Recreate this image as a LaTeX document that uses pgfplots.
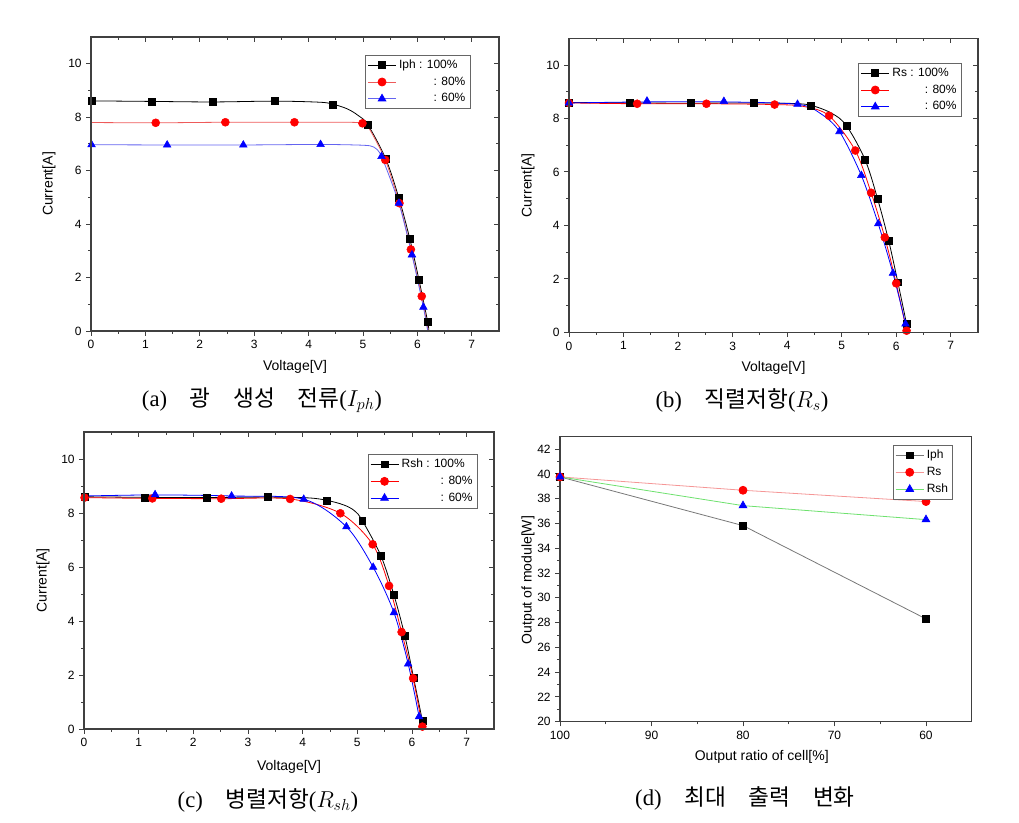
\documentclass[border=0pt]{standalone}
\usepackage{pgfplots}
\pgfplotsset{compat=1.18}
\usepackage{fontspec}
\setmainfont{Liberation Sans}
\newfontfamily\serif{Liberation Serif}
\newfontfamily\kr{Noto Sans CJK KR}
\definecolor{lred}{RGB}{238,90,90}
\definecolor{lblue}{RGB}{100,100,240}
\definecolor{gline}{RGB}{120,120,120}
\definecolor{pline}{RGB}{245,150,150}
\definecolor{grline}{RGB}{110,225,110}
\definecolor{mred}{RGB}{255,0,0}
\definecolor{mblue}{RGB}{0,0,255}
\pgfplotsset{
  common/.style={scale only axis,
    axis line style={black!75, line width=0.8pt},
    tick style={black!75, line width=0.7pt},
    major tick length=3.5pt, minor tick length=2pt,
    tick label style={font=\fontsize{9}{10}\selectfont},
    label style={font=\fontsize{10.5}{12}\selectfont},
    /pgf/number format/assume math mode=true,
    legend image code/.code={\draw (0pt,0pt) -- (21pt,0pt); \draw plot[only marks] coordinates {(10.5pt,0pt)};},
    legend style={draw=black!60, line width=0.6pt, font=\fontsize{9}{10}\selectfont, inner sep=1.5pt, row sep=0.8pt, legend cell align=left, fill=white},
  },
  iv/.style={common, xmin=0, xmax=7.5, ymin=0, ymax=11,
    xtick={0,1,...,7}, ytick={0,2,...,10}, minor x tick num=1, minor y tick num=1},
  lower/.style={tick align=outside, xtick pos=left, ytick pos=left},
  upper/.style={tick align=inside, xtick pos=right, ytick pos=right, xticklabels={}, yticklabels={}},
  mk/.style={only marks, mark size=3pt},
}
\begin{document}
\begin{tikzpicture}
\useasboundingbox (0,0) rectangle (764.25pt,616.5pt);
% ---------------- (a)
\begin{axis}[iv, lower, at={(68.25pt,368.25pt)}, anchor=south west, width=306pt, height=220.5pt,
  xlabel={Voltage[V]}, ylabel={Current[A]},
  xlabel style={at={(axis description cs:0.5,-0.122)}, anchor=center},
  ylabel style={at={(axis description cs:-0.103,0.5)}, anchor=center},
  legend style={at={(0.93,0.94)}, anchor=north east}]
\addlegendimage{black, line width=0.6pt, mark=square*, mark size=2.6pt}
\addlegendentry{Iph : 100\%}
\addlegendimage{lred, line width=0.6pt, mark=*, mark options={mred}, mark size=3pt}
\addlegendentry{\hphantom{Iph : 1}: 80\%}
\addlegendimage{lblue, line width=0.6pt, mark=triangle*, mark options={mblue}, mark size=3.3pt}
\addlegendentry{\hphantom{Iph : 1}: 60\%}
\addplot[black, line width=0.6pt, smooth, tension=0.55, forget plot] coordinates {(0,8.61)(1.11,8.59)(2.24,8.57)(3.38,8.6)(4.2,8.56)(4.44,8.49)(4.7,8.32)(4.9,8.08)(5.09,7.71)(5.42,6.43)(5.66,4.97)(5.86,3.45)(6.03,1.9)(6.19,0.33)(6.21,0)};
\addplot[black, mk, mark=square*, mark size=2.6pt, forget plot] coordinates {(0.01,8.61)(1.11,8.59)(2.24,8.57)(3.38,8.6)(4.44,8.47)(5.09,7.71)(5.42,6.43)(5.66,4.97)(5.86,3.45)(6.03,1.9)(6.19,0.33)};
\addplot[lred, line width=0.6pt, smooth, tension=0.45, forget plot] coordinates {(0,7.8)(1.19,7.79)(2.47,7.81)(3.74,7.81)(4.6,7.81)(4.99,7.78)(5.12,7.55)(5.41,6.40)(5.67,4.78)(5.88,3.05)(6.08,1.3)(6.2,0)};
\addplot[mred, mk, mark=*, forget plot] coordinates {(1.19,7.79)(2.47,7.81)(3.74,7.81)(4.99,7.77)(5.41,6.40)(5.67,4.78)(5.88,3.05)(6.08,1.3)};
\addplot[lblue, line width=0.6pt, smooth, tension=0.45, forget plot] coordinates {(0,6.97)(1.40,6.96)(2.80,6.96)(4.22,6.98)(5.0,6.95)(5.2,6.88)(5.34,6.53)(5.66,4.78)(5.9,2.85)(6.11,0.89)(6.19,0)};
\addplot[mblue, mk, mark=triangle*, mark size=3.3pt, forget plot] coordinates {(0.01,6.97)(1.40,6.96)(2.80,6.96)(4.22,6.98)(5.34,6.53)(5.66,4.78)(5.9,2.85)(6.11,0.89)};
\end{axis}
\begin{axis}[iv, upper, at={(68.25pt,368.25pt)}, anchor=south west, width=306pt, height=220.5pt]
\end{axis}
% ---------------- (b)
\begin{axis}[iv, lower, at={(426.75pt,367.3pt)}, anchor=south west, width=306.75pt, height=220.5pt,
  xlabel={Voltage[V]}, ylabel={Current[A]},
  xlabel style={at={(axis description cs:0.5,-0.121)}, anchor=center},
  ylabel style={at={(axis description cs:-0.1,0.5)}, anchor=center},
  legend style={at={(0.96,0.916)}, anchor=north east}]
\addlegendimage{black, line width=0.6pt, mark=square*, mark size=2.6pt}
\addlegendentry{Rs : 100\%}
\addlegendimage{mred, line width=0.6pt, mark=*, mark size=3pt}
\addlegendentry{\hphantom{Rs : 1}: 80\%}
\addlegendimage{mblue, line width=0.6pt, mark=triangle*, mark size=3.3pt}
\addlegendentry{\hphantom{Rs : 1}: 60\%}
\addplot[black, line width=0.6pt, smooth, tension=0.55, forget plot] coordinates {(0,8.6)(1.12,8.58)(2.24,8.57)(3.38,8.58)(4.1,8.56)(4.44,8.49)(4.82,8.19)(5.09,7.72)(5.43,6.45)(5.66,4.98)(5.86,3.44)(6.03,1.87)(6.19,0.31)(6.22,0)};
\addplot[black, mk, mark=square*, mark size=2.6pt, forget plot] coordinates {(0,8.6)(1.12,8.58)(2.24,8.57)(3.38,8.58)(4.44,8.49)(5.09,7.72)(5.43,6.45)(5.66,4.98)(5.86,3.44)(6.03,1.87)(6.19,0.31)};
\addplot[mred, line width=0.6pt, smooth, tension=0.5, forget plot] coordinates {(0,8.58)(1.25,8.55)(2.52,8.55)(3.77,8.52)(4.3,8.45)(4.77,8.1)(5.25,6.8)(5.54,5.22)(5.79,3.55)(6.0,1.83)(6.19,0.06)(6.2,0)};
\addplot[mred, mk, mark=*, forget plot] coordinates {(0,8.58)(1.25,8.55)(2.52,8.55)(3.77,8.52)(4.77,8.1)(5.25,6.8)(5.54,5.22)(5.79,3.55)(6.0,1.83)(6.19,0.06)};
\addplot[mblue, line width=0.6pt, smooth, tension=0.5, forget plot] coordinates {(0,8.58)(1.43,8.62)(2.84,8.62)(4.19,8.53)(4.6,8.2)(4.96,7.51)(5.36,5.87)(5.67,4.06)(5.94,2.21)(6.17,0.31)(6.19,0)};
\addplot[mblue, mk, mark=triangle*, mark size=3.3pt, forget plot] coordinates {(0,8.58)(1.43,8.65)(2.84,8.64)(4.19,8.53)(4.96,7.51)(5.36,5.87)(5.67,4.06)(5.94,2.21)(6.17,0.31)};
\end{axis}
\begin{axis}[iv, upper, at={(426.75pt,367.3pt)}, anchor=south west, width=306.75pt, height=220.5pt]
\end{axis}
% ---------------- (c)
\begin{axis}[iv, lower, at={(63pt,69.75pt)}, anchor=south west, width=307.5pt, height=222.75pt,
  xlabel={Voltage[V]}, ylabel={Current[A]},
  xlabel style={at={(axis description cs:0.5,-0.128)}, anchor=center},
  ylabel style={at={(axis description cs:-0.1,0.5)}, anchor=center},
  legend style={at={(0.96,0.926)}, anchor=north east}]
\addlegendimage{black, line width=0.6pt, mark=square*, mark size=2.6pt}
\addlegendentry{Rsh : 100\%}
\addlegendimage{mred, line width=0.6pt, mark=*, mark size=3pt}
\addlegendentry{\hphantom{Rsh : 1}: 80\%}
\addlegendimage{mblue, line width=0.6pt, mark=triangle*, mark size=3.3pt}
\addlegendentry{\hphantom{Rsh : 1}: 60\%}
\addplot[black, line width=0.6pt, smooth, tension=0.55, forget plot] coordinates {(0,8.6)(1.12,8.58)(2.25,8.57)(3.37,8.59)(4.1,8.56)(4.44,8.47)(4.75,8.3)(4.95,8.08)(5.09,7.72)(5.43,6.42)(5.67,4.96)(5.87,3.44)(6.03,1.89)(6.19,0.31)(6.22,0)};
\addplot[black, mk, mark=square*, mark size=2.6pt, forget plot] coordinates {(0.01,8.6)(1.12,8.58)(2.25,8.57)(3.37,8.59)(4.44,8.47)(5.09,7.72)(5.43,6.42)(5.67,4.96)(5.87,3.44)(6.03,1.89)(6.19,0.31)};
\addplot[mred, line width=0.6pt, smooth, tension=0.5, forget plot] coordinates {(0,8.57)(1.25,8.54)(2.51,8.53)(3.77,8.52)(4.69,7.99)(5.28,6.84)(5.58,5.30)(5.81,3.59)(6.02,1.88)(6.19,0.09)(6.2,0)};
\addplot[mred, mk, mark=*, forget plot] coordinates {(0.01,8.57)(1.25,8.54)(2.51,8.53)(3.77,8.52)(4.69,7.99)(5.28,6.84)(5.58,5.30)(5.81,3.59)(6.02,1.88)(6.19,0.09)};
\addplot[mblue, line width=0.6pt, smooth, tension=0.5, forget plot] coordinates {(0,8.63)(1.3,8.67)(2.7,8.63)(4.02,8.51)(4.8,7.49)(5.29,5.99)(5.67,4.31)(5.93,2.41)(6.13,0.46)(6.17,0)};
\addplot[mblue, mk, mark=triangle*, mark size=3.3pt, forget plot] coordinates {(1.3,8.68)(2.7,8.63)(4.02,8.51)(4.8,7.49)(5.29,5.99)(5.67,4.31)(5.93,2.41)(6.13,0.46)};
\end{axis}
\begin{axis}[iv, upper, at={(63pt,69.75pt)}, anchor=south west, width=307.5pt, height=222.75pt]
\end{axis}
% ---------------- (d)
\begin{axis}[common, at={(420pt,75.2pt)}, anchor=south west, width=308.8pt, height=213.75pt,
  x dir=reverse, xmin=55, xmax=100, ymin=20, ymax=43,
  xtick={60,70,80,90,100}, ytick={20,22,...,42}, minor x tick num=1, minor y tick num=1,
  tick align=outside, xtick pos=left, ytick pos=left,
  xlabel={Output ratio of cell[\%]}, ylabel={Output of module[W]},
  xlabel style={at={(axis description cs:0.49,-0.124)}, anchor=center},
  ylabel style={at={(axis description cs:-0.078,0.497)}, anchor=center},
  legend style={at={(0.955,0.971)}, anchor=north east}]
\addplot[gline, line width=0.6pt, mark=square*, mark size=2.6pt, mark options={black}] coordinates {(100,39.76)(80,35.83)(60,28.30)};
\addlegendentry{Iph}
\addplot[pline, line width=0.6pt, mark=*, mark size=3pt, mark options={mred}] coordinates {(100,39.76)(80,38.68)(60,37.77)};
\addlegendentry{Rs}
\addplot[grline, line width=0.6pt, mark=triangle*, mark size=3.3pt, mark options={mblue}] coordinates {(100,39.76)(80,37.44)(60,36.31)};
\addlegendentry{Rsh}
\end{axis}
% ---------------- captions
\node[font=\fontsize{17}{19}\selectfont] at (196.5pt,316.5pt) {{\serif (a)}\quad{\kr 광\quad 생성\quad 전류}{\serif (}$I_{ph}${\serif )}};
\node[font=\fontsize{17}{19}\selectfont] at (556.5pt,316.5pt) {{\serif (b)}\quad{\kr 직렬저항}{\serif (}$R_{s}${\serif )}};
\node[font=\fontsize{17}{19}\selectfont] at (201pt,16.5pt) {{\serif (c)}\quad{\kr 병렬저항}{\serif (}$R_{sh}${\serif )}};
\node[font=\fontsize{17}{19}\selectfont] at (558.75pt,18pt) {{\serif (d)}\quad{\kr 최대\quad 출력\quad 변화}};
\end{tikzpicture}
\end{document}
